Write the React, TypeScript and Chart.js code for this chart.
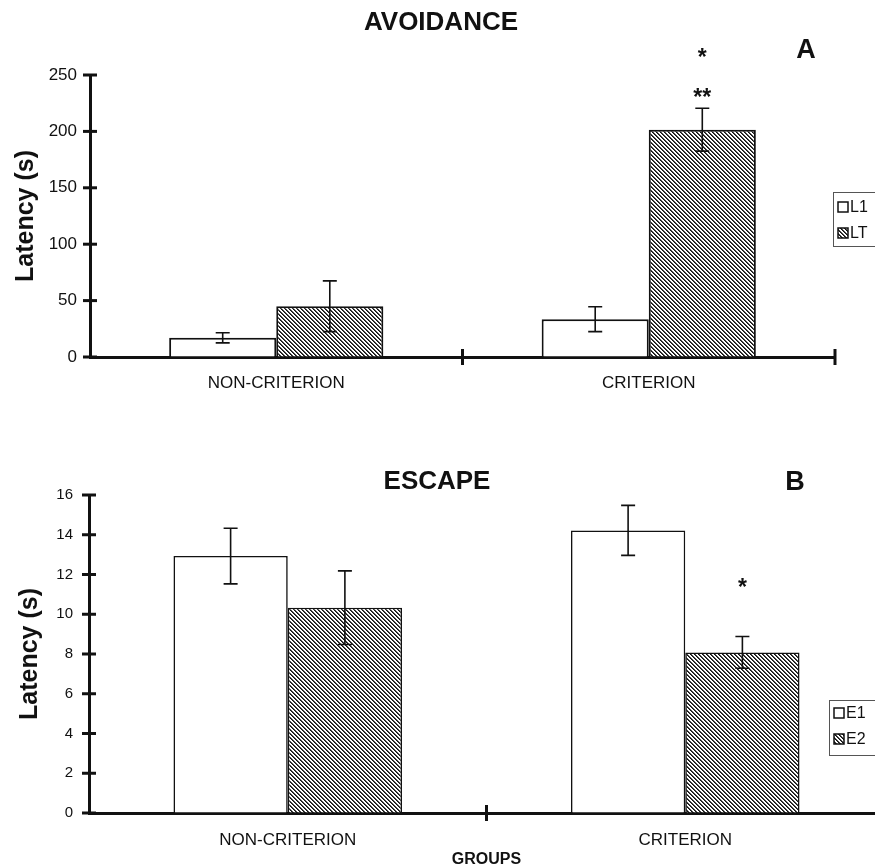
import React, { useEffect, useRef } from 'react';
import { Chart, registerables } from 'chart.js';
Chart.register(...registerables);

// ---------- data ----------
const groups = ['NON-CRITERION', 'CRITERION'];

const avoidSeries = ['L1', 'LT'];
const avoidL1 = [17, 33.5];
const avoidL1Err = [4.5, 11];
const avoidLT = [45, 201.5];
const avoidLTErr = [22.5, 19];
const avoidYMax = 250;
const avoidYStep = 50;

const escapeSeries = ['E1', 'E2'];
const escapeE1 = [12.93, 14.22];
const escapeE1Err = [1.4, 1.26];
const escapeE2 = [10.33, 8.08];
const escapeE2Err = [1.85, 0.8];
const escapeYMax = 16;
const escapeYStep = 2;

const FONT = '"Liberation Sans", Arial, Helvetica, sans-serif';

function makeHatch(ctx: CanvasRenderingContext2D) {
  const c = document.createElement('canvas');
  c.width = 4;
  c.height = 4;
  const g = c.getContext('2d')!;
  g.fillStyle = '#ffffff';
  g.fillRect(0, 0, 4, 4);
  g.fillStyle = '#111111';
  for (let i = 0; i < 4; i++) g.fillRect(i, i, 1, 1);
  g.fillStyle = '#4a4a4a';
  for (let i = 0; i < 4; i++) g.fillRect((i + 1) % 4, i, 1, 1);
  return ctx.createPattern(c, 'repeat')!;
}

type Spec = {
  title: string;
  titlePos: [number, number];
  letter: string;
  letterPos: [number, number];
  series: string[];
  values: number[][];
  errors: number[][];
  yMax: number;
  yStep: number;
  padTop: number;
  padRight: number;
  yWidth: number;
  xHeight: number;
  yTickFont: number;
  yTickPad: number;
  yTitlePad: number;
  xTickPad: number;
  xTitle?: string;
  xTitlePad?: number;
  barBorder: number;
  legend: { x: number; y: number; w: number; h: number; rows: number[] };
  stars: { ds: number; idx: number; text: string; dy: number }[];
};

function buildChart(canvas: HTMLCanvasElement, spec: Spec) {
  const ctx = canvas.getContext('2d')!;
  const hatch = makeHatch(ctx);
  const fills = ['#ffffff', hatch];

  const overlay = {
    id: 'overlay',
    afterDatasetsDraw(chart: any) {
      const c = chart.ctx;
      const y = chart.scales.y;
      const x = chart.scales.x;
      c.save();
      // error bars
      c.strokeStyle = '#111';
      c.lineWidth = 1.6;
      spec.values.forEach((vals, d) => {
        const meta = chart.getDatasetMeta(d);
        vals.forEach((v, i) => {
          const bar = meta.data[i];
          const e = spec.errors[d][i];
          const yt = y.getPixelForValue(v + e);
          const yb = y.getPixelForValue(v - e);
          c.beginPath();
          c.moveTo(bar.x, yt);
          c.lineTo(bar.x, yb);
          c.moveTo(bar.x - 7, yt);
          c.lineTo(bar.x + 7, yt);
          c.moveTo(bar.x - 7, yb);
          c.lineTo(bar.x + 7, yb);
          c.stroke();
        });
      });
      // cross ticks on axes
      c.lineWidth = 3;
      const ax = chart.chartArea.left;
      y.ticks.forEach((t: any) => {
        const py = y.getPixelForValue(t.value);
        c.beginPath();
        c.moveTo(ax - 7, py);
        c.lineTo(ax + 7, py);
        c.stroke();
      });
      const n = groups.length;
      const w = (x.right - x.left) / n;
      const by = chart.chartArea.bottom;
      for (let i = 1; i <= n; i++) {
        const px = x.left + i * w;
        c.beginPath();
        c.moveTo(px, by - 8);
        c.lineTo(px, by + 8);
        c.stroke();
      }
      // significance stars
      c.fillStyle = '#111';
      c.font = `bold 23px ${FONT}`;
      c.textAlign = 'center';
      c.textBaseline = 'alphabetic';
      spec.stars.forEach((s) => {
        const bar = chart.getDatasetMeta(s.ds).data[s.idx];
        const v = spec.values[s.ds][s.idx] + spec.errors[s.ds][s.idx];
        const cy = y.getPixelForValue(v) - s.dy;
        c.fillText(s.text, bar.x, cy + 13);
      });
      // title + panel letter
      c.textBaseline = 'middle';
      c.font = `bold 26px ${FONT}`;
      c.fillText(spec.title, spec.titlePos[0], spec.titlePos[1]);
      c.font = `bold 27px ${FONT}`;
      c.fillText(spec.letter, spec.letterPos[0], spec.letterPos[1]);
      // legend
      const L = spec.legend;
      c.fillStyle = '#fff';
      c.fillRect(L.x, L.y, L.w, L.h);
      c.strokeStyle = '#555';
      c.lineWidth = 1;
      c.strokeRect(L.x + 0.5, L.y + 0.5, L.w, L.h);
      c.textAlign = 'left';
      c.font = `16px ${FONT}`;
      spec.series.forEach((s, k) => {
        const ry = L.rows[k];
        c.fillStyle = fills[k] as any;
        c.fillRect(L.x + 5, ry - 5, 10, 10);
        c.strokeStyle = '#111';
        c.lineWidth = 1.5;
        c.strokeRect(L.x + 5, ry - 5, 10, 10);
        c.fillStyle = '#111';
        c.fillText(s, L.x + 17, ry + 1);
      });
      c.restore();
    },
  };

  return new Chart(canvas, {
    type: 'bar',
    data: {
      labels: groups,
      datasets: spec.series.map((s, d) => ({
        label: s,
        data: spec.values[d],
        backgroundColor: fills[d] as any,
        borderColor: '#111',
        borderWidth: spec.barBorder,
        borderSkipped: 'bottom',
        categoryPercentage: 0.575,
        barPercentage: 1,
      })),
    },
    options: {
      responsive: false,
      animation: false,
      events: [],
      layout: { padding: { top: spec.padTop, right: spec.padRight, bottom: 0, left: 0 } },
      plugins: { legend: { display: false }, tooltip: { enabled: false }, title: { display: false } },
      scales: {
        x: {
          afterFit: (s: any) => { s.height = spec.xHeight; },
          grid: { display: true, drawOnChartArea: false, drawTicks: false, tickLength: 0 },
          border: { display: true, width: 3, color: '#111' },
          ticks: { color: '#111', font: { family: FONT, size: 17 }, padding: spec.xTickPad, maxRotation: 0 },
          title: spec.xTitle
            ? { display: true, text: spec.xTitle, color: '#111', font: { family: FONT, size: 16, weight: 'bold' }, padding: { top: 0, bottom: spec.xTitlePad } }
            : { display: false },
        },
        y: {
          min: 0,
          max: spec.yMax,
          afterFit: (s: any) => { s.width = spec.yWidth; },
          grid: { display: true, drawOnChartArea: false, drawTicks: false, tickLength: 0 },
          border: { display: true, width: 3, color: '#111' },
          ticks: { stepSize: spec.yStep, color: '#111', font: { family: FONT, size: spec.yTickFont }, padding: spec.yTickPad },
          title: { display: true, text: 'Latency (s)', color: '#111', font: { family: FONT, size: 25, weight: 'bold' }, padding: { top: spec.yTitlePad, bottom: 0 } },
        },
      },
    },
    plugins: [overlay],
  } as any);
}

const topSpec: Spec = {
  title: 'AVOIDANCE',
  titlePos: [441, 23],
  letter: 'A',
  letterPos: [806, 51],
  series: avoidSeries,
  values: [avoidL1, avoidLT],
  errors: [avoidL1Err, avoidLTErr],
  yMax: avoidYMax,
  yStep: avoidYStep,
  padTop: 75,
  padRight: 900 - 835,
  yWidth: 90,
  xHeight: 440 - 357,
  yTickFont: 17,
  yTickPad: 13,
  yTitlePad: 11,
  xTickPad: 16,
  barBorder: 2,
  legend: { x: 833, y: 192, w: 70, h: 54, rows: [207, 233] },
  stars: [
    { ds: 1, idx: 1, text: '**', dy: 16 },
    { ds: 1, idx: 1, text: '*', dy: 56 },
  ],
};

const bottomSpec: Spec = {
  title: 'ESCAPE',
  titlePos: [437, 42],
  letter: 'B',
  letterPos: [795, 43],
  series: escapeSeries,
  values: [escapeE1, escapeE2],
  errors: [escapeE1Err, escapeE2Err],
  yMax: escapeYMax,
  yStep: escapeYStep,
  padTop: 55,
  padRight: 900 - 884,
  yWidth: 89,
  xHeight: 432 - 373,
  yTickFont: 15,
  yTickPad: 16,
  yTitlePad: 15,
  xTickPad: 17,
  xTitle: 'GROUPS',
  xTitlePad: 3,
  barBorder: 1.6,
  legend: { x: 829, y: 260, w: 70, h: 55, rows: [273, 299] },
  stars: [{ ds: 1, idx: 1, text: '*', dy: 55 }],
};

export default function App() {
  const topRef = useRef<HTMLCanvasElement>(null);
  const botRef = useRef<HTMLCanvasElement>(null);
  useEffect(() => {
    document.body.style.margin = '0';
    const a = buildChart(topRef.current!, topSpec);
    const b = buildChart(botRef.current!, bottomSpec);
    return () => {
      a.destroy();
      b.destroy();
    };
  }, []);
  return (
    <div style={{ position: 'relative', width: 875, height: 865, overflow: 'hidden', background: '#fff' }}>
      <canvas ref={topRef} width={900} height={440} style={{ position: 'absolute', left: 0, top: 0, display: 'block' }} />
      <canvas ref={botRef} width={900} height={432} style={{ position: 'absolute', left: 0, top: 440, display: 'block' }} />
    </div>
  );
}
